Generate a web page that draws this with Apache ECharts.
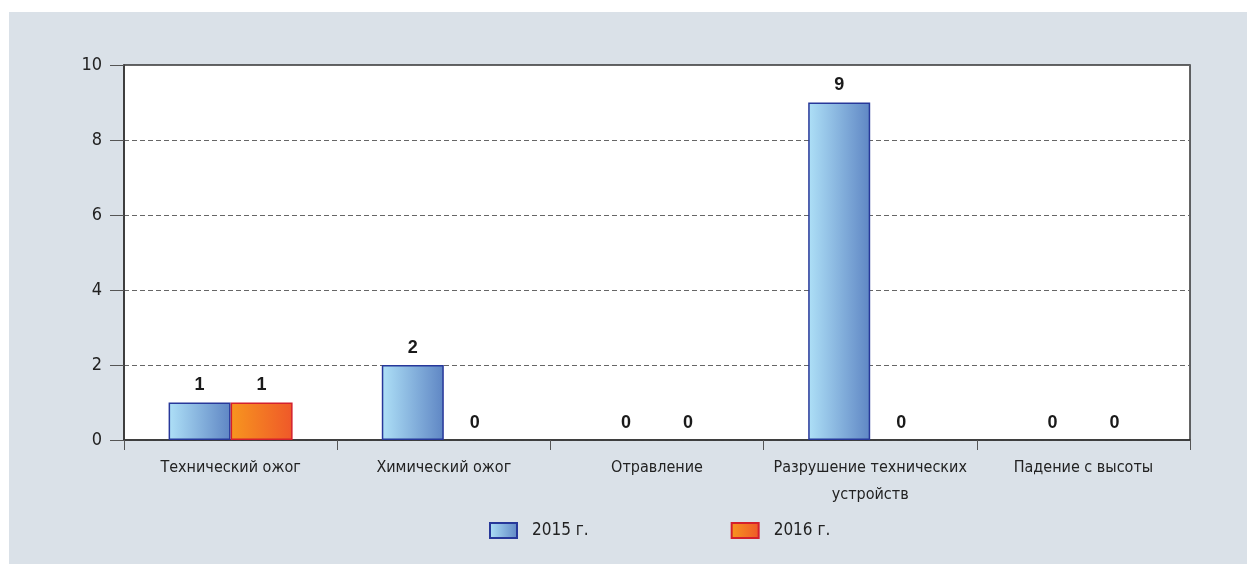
<!DOCTYPE html>
<html><head><meta charset="utf-8">
<script src="https://cdn.jsdelivr.net/npm/echarts@6/dist/echarts.min.js"></script>
<style>html,body{margin:0;padding:0;background:#fff;}#c{width:1247px;height:564px;}</style>
</head><body><div id="c"></div>
<script>
const categories = ['Технический ожог', 'Химический ожог', 'Отравление', 'Разрушение технических устройств', 'Падение с высоты'];
const seriesNames = ['2015 г.', '2016 г.'];
const values2015 = [1, 2, 0, 9, 0];
const values2016 = [1, 0, 0, 0, 0];
const yTicks = [0, 2, 4, 6, 8, 10];

const chart = echarts.init(document.getElementById('c'));
const narrow = "'Liberation Sans Narrow', 'DejaVu Sans Condensed', sans-serif";
const grad = (a, b) => new echarts.graphic.LinearGradient(0, 0, 1, 0, [{offset: 0, color: a}, {offset: 1, color: b}]);
const labelCfg = {show: true, position: 'top', distance: 8, fontFamily: "'Liberation Sans', Arial, sans-serif", fontWeight: 'bold', fontSize: 18, color: '#1a1a1a'};
const toItems = arr => arr.map(v => v === 0 ? {value: v, itemStyle: {borderWidth: 0}} : v);
chart.setOption({
  animation: false,
  backgroundColor: '#fff',
  graphic: [{type: 'rect', z: -10, silent: true, shape: {x: 9, y: 12, width: 1240, height: 560}, style: {fill: '#dae1e8'}}],
  grid: {left: 124, right: 57, top: 65, bottom: 124, show: true, backgroundColor: '#fff', borderColor: '#333', borderWidth: 1.5},
  legend: {
    bottom: 20, left: 484, itemWidth: 27, itemHeight: 15, itemGap: 142, icon: 'rect',
    textStyle: {fontFamily: narrow, fontSize: 17, color: '#222', padding: [0, 0, 0, 10]},
    data: seriesNames
  },
  xAxis: {
    type: 'category', data: categories,
    axisLine: {lineStyle: {color: '#333', width: 1.5}},
    axisTick: {show: true, length: 10, lineStyle: {color: '#555'}},
    axisLabel: {interval: 0, fontFamily: narrow, fontSize: 16, color: '#222', margin: 14, lineHeight: 27,
      formatter: v => v.replace(' устройств', '\nустройств')}
  },
  yAxis: {
    type: 'value', min: yTicks[0], max: yTicks[yTicks.length - 1], interval: 2,
    axisLine: {show: true, lineStyle: {color: '#333', width: 1.5}},
    axisTick: {show: true, length: 14, lineStyle: {color: '#555'}},
    axisLabel: {fontFamily: narrow, fontSize: 18, color: '#222', margin: 22},
    splitLine: {lineStyle: {color: '#666', type: [5, 3]}}
  },
  series: [
    {name: seriesNames[0], type: 'bar', data: toItems(values2015), barWidth: 62, barGap: '0%',
     itemStyle: {color: grad('#aee0f7', '#5f86c4'), borderColor: '#27389a', borderWidth: 1.5},
     label: labelCfg},
    {name: seriesNames[1], type: 'bar', data: toItems(values2016), barWidth: 62, barGap: '0%',
     itemStyle: {color: grad('#f7961f', '#ef5829'), borderColor: '#d4202c', borderWidth: 1.5},
     label: labelCfg}
  ]
});
</script></body></html>
